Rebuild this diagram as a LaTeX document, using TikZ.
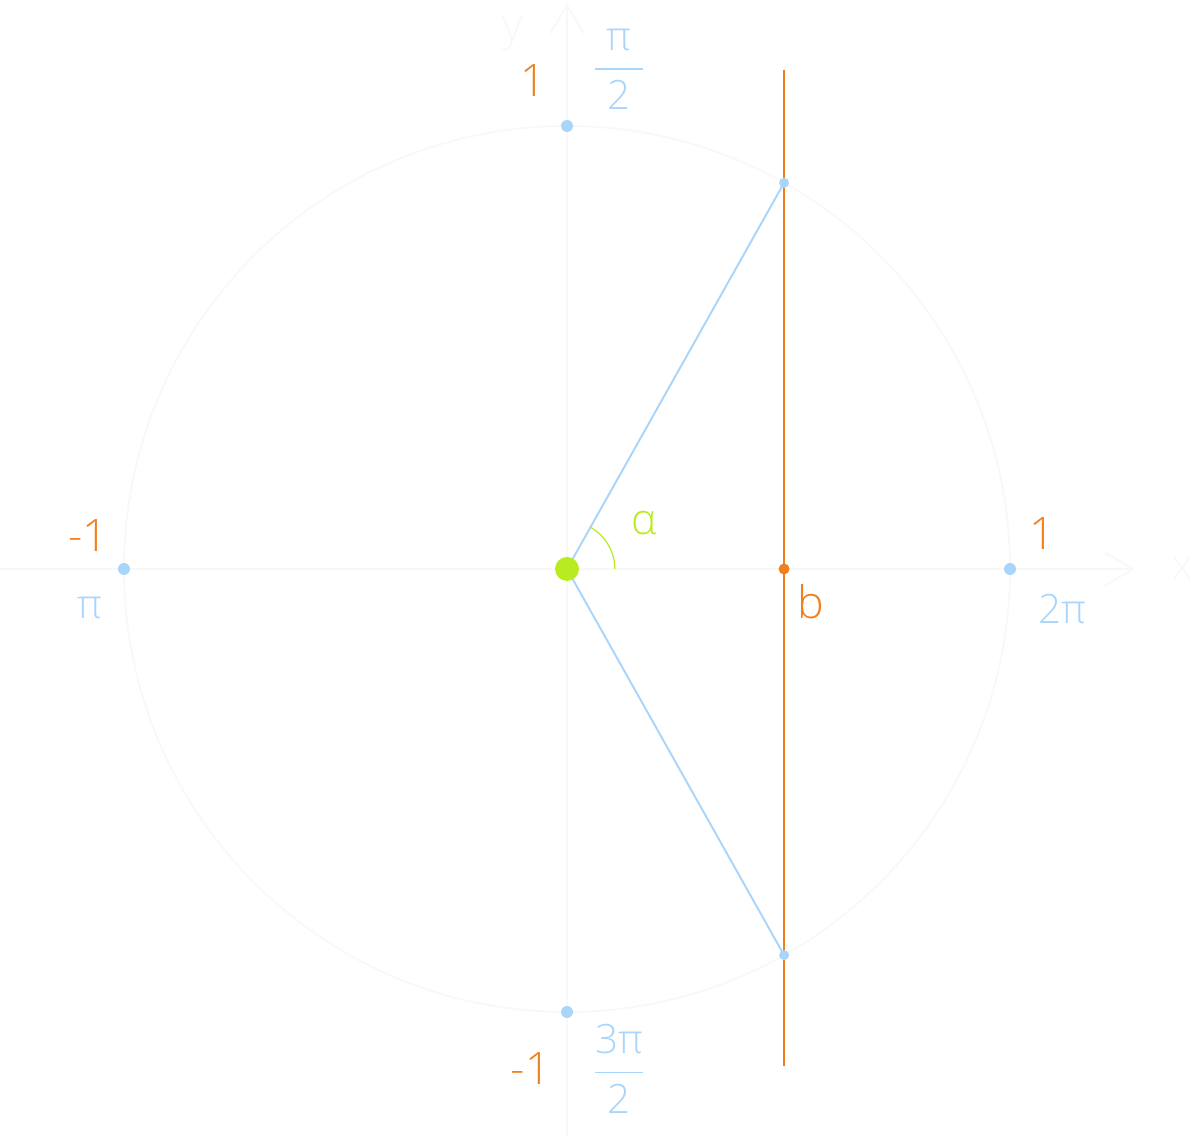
\documentclass[tikz,border=0pt]{standalone}
\usepackage{fontspec}
\setmainfont{Open Sans Light}
\usepackage{amsmath}
\usetikzlibrary{arrows.meta,positioning}
\definecolor{skyblue}{HTML}{AAD5FB}
\definecolor{tangerine}{HTML}{F0801E}
\definecolor{limegreen}{HTML}{B9EC20}
\definecolor{faint}{HTML}{F8F8F8}
\tikzset{
	auto, semithick,
	dot/.style = {circle, fill, inner sep=0pt, minimum size=#1, node contents={}},
	dot/.default = 0.24cm,
	el/.style = {inner sep=0pt, align=center}
}
\begin{document}
\begin{tikzpicture}[x=8.86cm, y=8.86cm]
	\tikzstyle{axis} = [draw=faint, line width=1.1pt,
		-{Straight Barb[length=0.56cm, width=0.66cm, line width=1.1pt]}]
	\tikzstyle{axislbl} = [el, text=faint, font=\fontsize{25.5}{30}\selectfont]
	\tikzstyle{numlbl} = [el, text=tangerine, font=\fontsize{25.5}{30}\selectfont]
	\tikzstyle{anglbl} = [el, text=skyblue, font=\fontsize{23}{28}\selectfont]
	\tikzstyle{chord} = [draw=skyblue, line width=1.1pt]
	\tikzstyle{cline} = [draw=tangerine, line width=1.4pt]
	\useasboundingbox (-1.2799,-1.2799) rectangle (1.4063,1.2844);

	% unit circle and axes
	\coordinate (O) at (0,0);
	\coordinate (xstart) at (-1.2799,0);
	\coordinate (xend) at (1.282,0);
	\coordinate (ystart) at (0,-1.2799);
	\coordinate (yend) at (0,1.277);
	\draw[faint, line width=1pt] (O) circle (1);
	\draw[axis] (xstart) -- (xend);
	\draw[axis] (ystart) -- (yend);
	\node[axislbl] (xlbl) at (1.39,0) {x};
	\node[axislbl] (ylbl) at (-0.122,1.208) {y};

	% secant x = b
	\coordinate (ctop) at (0.49,1.1264);
	\coordinate (cbot) at (0.49,-1.1219);
	\coordinate (pt) at (0.49,0.8717);
	\coordinate (pb) at (0.49,-0.8717);
	\coordinate (pm) at (0.49,0);
	\draw[chord] (O) -- (pt);
	\draw[chord] (O) -- (pb);
	\draw[cline] (ctop) -- (cbot);
	\draw[limegreen, line width=0.7pt] ([shift={(0:0.108)}]O) arc (0:60.66:0.108);

	% points
	\node[skyblue] (east) at (1,0) [dot];
	\node[skyblue] (north) at (0,1) [dot];
	\node[skyblue] (west) at (-1,0) [dot];
	\node[skyblue] (south) at (0,-1) [dot];
	\node[skyblue] (top) at (pt) [dot=0.2cm];
	\node[skyblue] (bottom) at (pb) [dot=0.2cm];
	\node[tangerine] (mid) at (pm) [dot=0.22cm];
	\node[limegreen] (centre) at (O) [dot=0.48cm];

	% labels
	\node[numlbl] (one-n) at (-0.0756,1.1016) {1};
	\node[numlbl] (one-w) at (-1.0801,0.0745) {-1};
	\node[numlbl] (one-e) at (1.0734,0.0801) {1};
	\node[numlbl] (one-s) at (-0.0813,-1.1275) {-1};
	\node[numlbl] (blbl) at (0.5497,-0.0745) {b};
	\node[el, text=limegreen, font=\fontsize{24.5}{29}\selectfont] (alpha) at (0.1738,0.1038) {α};
	\node[anglbl] (half) at (0.1174,1.128) {$\dfrac{\makebox[0.96cm]{π}}{\text{2}}$};
	\node[anglbl] (pi) at (-1.0779,-0.0869) {π};
	\node[anglbl] (twopi) at (1.1174,-0.0903) {2π};
	\node[anglbl] (threehalf) at (0.1174,-1.1287) {$\dfrac{\makebox[0.96cm]{3π}}{\text{2}}$};
\end{tikzpicture}
\end{document}
